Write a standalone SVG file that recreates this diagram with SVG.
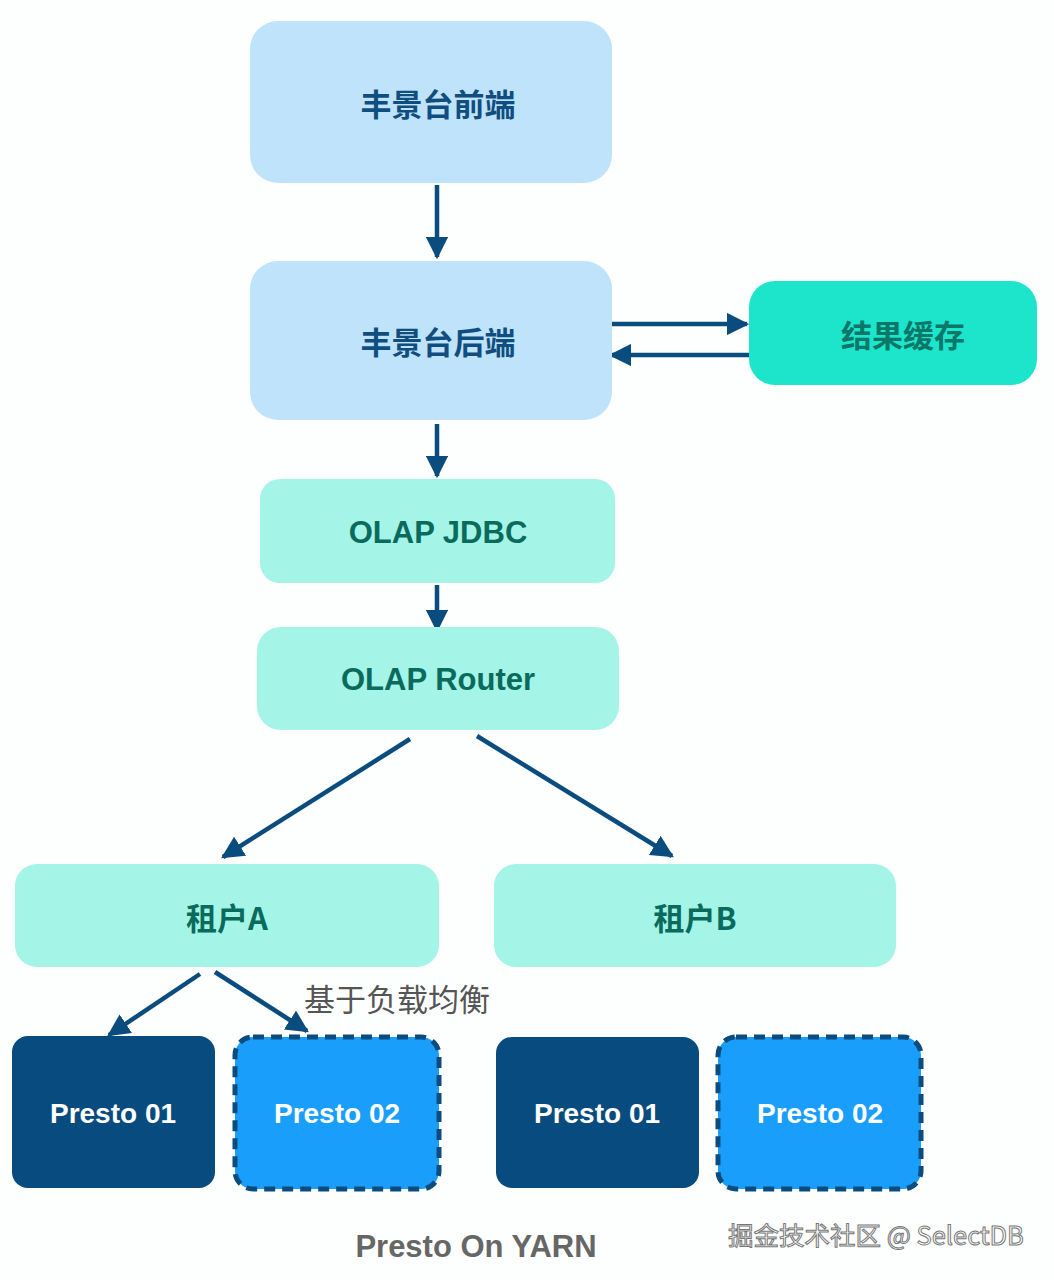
<svg xmlns="http://www.w3.org/2000/svg" width="1054" height="1280" viewBox="0 0 1054 1280">
<defs>
<style>
.bg{fill:#fdfefe}
.blue{fill:#bee3fb}
.teal{fill:#a4f4e7}
.cache{fill:#1ce5cc}
.dark{fill:#084b7e}
.bright{fill:#1a9efc;stroke:#0b4c7e;stroke-width:5;stroke-dasharray:11 7}
.tb{font-family:"Liberation Sans","Noto Sans CJK SC",sans-serif;font-weight:bold;font-size:31px;text-anchor:middle;dominant-baseline:central}
.cn{font-family:"Noto Sans CJK SC",sans-serif;font-weight:bold;font-size:31px;text-anchor:middle;dominant-baseline:central}
.tblue{fill:#104e80}
.tteal{fill:#0a6b5c}
.tcache{fill:#0b7768}
.tw{fill:#ffffff;font-size:28px}
.conn{stroke:#0b4c7e;stroke-width:4.5;fill:none;marker-end:url(#ah)}
</style>
<marker id="ah" viewBox="0 0 10 10" refX="9" refY="5" markerWidth="5" markerHeight="5" markerUnits="strokeWidth" orient="auto">
<path d="M0,0 L10,5 L0,10 z" fill="#0b4c7e"/>
</marker>
</defs>
<rect class="bg" x="0" y="0" width="1054" height="1280"/>

<g id="connectors">
<line class="conn" x1="437" y1="185" x2="437" y2="257"/>
<line class="conn" x1="609" y1="324" x2="747" y2="324"/>
<line class="conn" x1="749" y1="355" x2="611" y2="355"/>
<line class="conn" x1="437" y1="424" x2="437" y2="476"/>
<line class="conn" x1="437" y1="585" x2="437" y2="630"/>
<line class="conn" x1="410" y1="739" x2="223" y2="857"/>
<line class="conn" x1="477" y1="736" x2="672" y2="856"/>
<line class="conn" x1="200" y1="974" x2="109" y2="1035"/>
<line class="conn" x1="215" y1="972" x2="307" y2="1031"/>
</g>

<g id="frontend">
<rect class="blue" x="250" y="21" width="362" height="162" rx="28"/>
<text class="cn tblue" x="438" y="102">丰景台前端</text>
</g>
<g id="backend">
<rect class="blue" x="250" y="261" width="362" height="159" rx="28"/>
<text class="cn tblue" x="438" y="340">丰景台后端</text>
</g>
<g id="cache">
<rect class="cache" x="749" y="281" width="288" height="104" rx="26"/>
<text class="cn tcache" x="903" y="333">结果缓存</text>
</g>
<g id="jdbc">
<rect class="teal" x="260" y="479" width="355" height="104" rx="20"/>
<text class="tb tteal" x="438" y="532">OLAP JDBC</text>
</g>
<g id="router">
<rect class="teal" x="257" y="627" width="362" height="103" rx="24"/>
<text class="tb tteal" x="438" y="679">OLAP Router</text>
</g>
<g id="tenantA">
<rect class="teal" x="15" y="864" width="424" height="103" rx="22"/>
<text class="cn tteal" x="227" y="916">租户A</text>
</g>
<g id="tenantB">
<rect class="teal" x="494" y="864" width="402" height="103" rx="22"/>
<text class="cn tteal" x="695" y="916">租户B</text>
</g>
<g id="lb-label">
<text x="304" y="997" font-family="Noto Sans CJK SC,sans-serif" font-size="31" fill="#555555" dominant-baseline="central">基于负载均衡</text>
</g>
<g id="a-presto01">
<rect class="dark" x="12" y="1036" width="203" height="152" rx="16"/>
<text class="tb tw" x="113" y="1113">Presto 01</text>
</g>
<g id="a-presto02">
<rect class="bright" x="235" y="1037" width="204" height="152" rx="18"/>
<text class="tb tw" x="337" y="1113">Presto 02</text>
</g>
<g id="b-presto01">
<rect class="dark" x="496" y="1037" width="203" height="151" rx="16"/>
<text class="tb tw" x="597" y="1113">Presto 01</text>
</g>
<g id="b-presto02">
<rect class="bright" x="718" y="1037" width="203" height="152" rx="18"/>
<text class="tb tw" x="820" y="1113">Presto 02</text>
</g>
<g id="caption">
<text class="tb" x="476" y="1246" fill="#666666">Presto On YARN</text>
</g>
<g id="watermark">
<text x="728" y="1233" font-family="Noto Sans CJK SC,sans-serif" font-size="25.5" fill="#ffffff" stroke="#777777" stroke-width="1" dominant-baseline="central">掘金技术社区 @ SelectDB</text>
</g>
</svg>
